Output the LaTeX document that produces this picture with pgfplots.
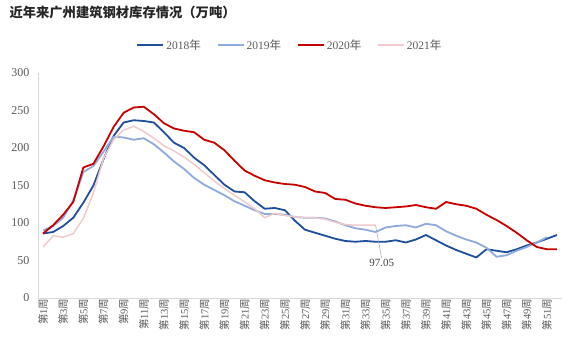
\documentclass[border=0pt]{standalone}
\usepackage{fontspec}
\setmainfont{Liberation Serif}
\newfontfamily\cjk{Noto Sans CJK SC}
\usepackage{pgfplots}
\pgfplotsset{compat=1.18}
\definecolor{c18}{HTML}{1F4E9A}
\definecolor{c19}{HTML}{8FAADC}
\definecolor{c20}{HTML}{C80000}
\definecolor{c21}{HTML}{F0CACC}
\definecolor{txt}{HTML}{595959}
\definecolor{axl}{HTML}{D9D9D9}
\newcommand{\W}[1]{{\cjk 第}#1{\cjk 周}}
\begin{document}
\begin{tikzpicture}
\useasboundingbox (0pt,0pt) rectangle (576pt,350pt);
\node[anchor=west, font=\cjk\bfseries\fontsize{13.3}{15}\selectfont, text=black!85] at (6pt,338pt) {近年来广州建筑钢材库存情况（万吨）};
\begin{axis}[
  at={(38pt,52pt)}, anchor=south west,
  scale only axis, width=524pt, height=225pt,
  xmin=0.5, xmax=52.5, ymin=0, ymax=300,
  ytick={0,50,...,300},
  xtick={1,3,...,51},
  xticklabels={\W{1},\W{3},\W{5},\W{7},\W{9},\W{11},\W{13},\W{15},\W{17},\W{19},\W{21},\W{23},\W{25},\W{27},\W{29},\W{31},\W{33},\W{35},\W{37},\W{39},\W{41},\W{43},\W{45},\W{47},\W{49},\W{51}},
  xticklabel style={rotate=90, anchor=east, font=\fontsize{10.5}{11}\selectfont, text=txt},
  xticklabel shift=-3pt,
  yticklabel style={font=\fontsize{12}{13}\selectfont, text=txt},
  yticklabel shift=5pt,
  /pgf/number format/assume math mode=true,
  major tick length=0pt,
  axis line style={axl},
  axis x line*=bottom, axis y line*=left,
  every outer x axis line/.append style={-},
  every outer y axis line/.append style={-},
  legend columns=4,
  legend style={at={(0.481,1.124)}, anchor=center, draw=none, fill=none,
    font=\fontsize{11.5}{13}\selectfont, text=txt,
    /tikz/every even column/.append style={column sep=14pt}},
  legend image code/.code={\draw[#1] (0pt,0pt) -- (26pt,0pt);},
  clip=false,
]
\addplot[c18, line width=1.8pt, line join=round] coordinates {
(1,86) (2,88) (3,96) (4,107) (5,127) (6,150) (7,185) (8,216) (9,234) (10,237)
(11,236) (12,234) (13,221) (14,207) (15,200) (16,187) (17,177) (18,164) (19,151) (20,142)
(21,141) (22,129) (23,119) (24,120) (25,117) (26,103) (27,91) (28,87) (29,83) (30,79)
(31,76) (32,75) (33,76) (34,75) (35,75) (36,77) (37,74) (38,78) (39,84) (40,77)
(41,70) (42,64) (43,59) (44,54) (45,65) (46,63) (47,61) (48,65) (49,70) (50,74)
(51,79) (52,84)};
\addlegendentry{2018{\cjk 年}}
\addplot[c19, line width=1.8pt, line join=round] coordinates {
(1,90) (2,96) (3,107) (4,130) (5,168) (6,176) (7,195) (8,215) (9,214) (10,211)
(11,213) (12,205) (13,194) (14,182) (15,172) (16,160) (17,151) (18,144) (19,137) (20,129)
(21,123) (22,117) (23,112) (24,112) (25,111) (26,108) (27,107) (28,107) (29,106) (30,102)
(31,97) (32,93) (33,91) (34,88) (35,94) (36,96) (37,97) (38,94) (39,99) (40,97)
(41,89) (42,83) (43,78) (44,74) (45,67) (46,55) (47,57) (48,63) (49,68) (50,74)
(51,81)};
\addlegendentry{2019{\cjk 年}}
\addplot[c20, line width=1.8pt, line join=round] coordinates {
(1,86) (2,97) (3,111) (4,128) (5,174) (6,179) (7,202) (8,228) (9,247) (10,254)
(11,255) (12,245) (13,233) (14,226) (15,223) (16,221) (17,211) (18,207) (19,197) (20,183)
(21,170) (22,163) (23,157) (24,154) (25,152) (26,151) (27,148) (28,142) (29,140) (30,132)
(31,131) (32,126) (33,123) (34,121) (35,120) (36,121) (37,122) (38,124) (39,121) (40,119)
(41,128) (42,125) (43,123) (44,119) (45,111) (46,104) (47,96) (48,87) (49,77) (50,68)
(51,65) (52,65)};
\addlegendentry{2020{\cjk 年}}
\addplot[c21, line width=1.5pt, line join=round] coordinates {
(1,68) (2,83) (3,81) (4,86) (5,106) (6,140) (7,186) (8,211) (9,224) (10,229)
(11,222) (12,213) (13,203) (14,196) (15,188) (16,178) (17,167) (18,156) (19,146) (20,137)
(21,128) (22,119) (23,107) (24,113) (25,110) (26,108) (27,107) (28,107) (29,105) (30,101)
(31,98) (32,97) (33,97) (34,97.05)};
\addlegendentry{2021{\cjk 年}}
\draw[gray!70, line width=0.5pt] (axis cs:34,97.05) -- (axis cs:34.6,53)
  node[below, inner sep=1pt, font=\fontsize{11}{12}\selectfont, text=black!75] {97.05};
\end{axis}
\end{tikzpicture}
\end{document}
